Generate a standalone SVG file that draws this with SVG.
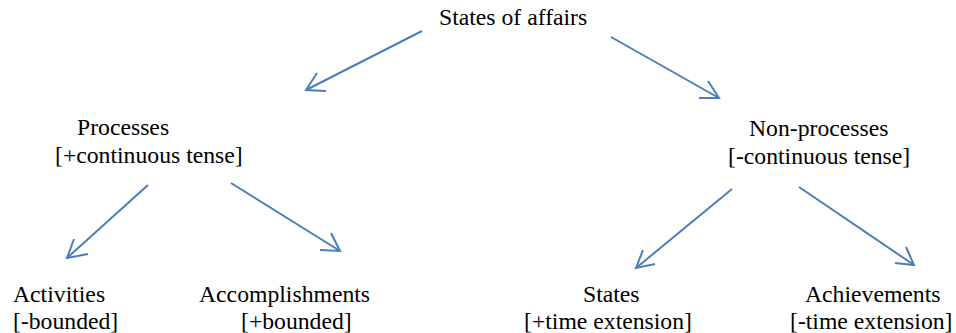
<svg xmlns="http://www.w3.org/2000/svg" width="956" height="333" viewBox="0 0 956 333">
<style>
text{font-family:"Liberation Serif","Times New Roman",serif;font-size:23.7px;fill:#000}
.c line,.c polyline{stroke:#4a7ebb;stroke-width:2;fill:none;stroke-linecap:butt}
</style>
<rect width="956" height="333" fill="#fff"/>
<g class="c" id="connectors">
<line x1="422" y1="31" x2="306" y2="90"/><polyline points="317,73 306,90 326,91"/>
<line x1="611" y1="37" x2="719" y2="98"/><polyline points="708,81 719,98 699,98"/>
<line x1="148" y1="185" x2="67" y2="258"/><polyline points="74,239 67,258 88,254"/>
<line x1="231" y1="183" x2="340" y2="251"/><polyline points="331,233 340,251 320,250"/>
<line x1="732" y1="189" x2="636" y2="268"/><polyline points="643,250 636,268 655,264"/>
<line x1="799" y1="187" x2="914" y2="265"/><polyline points="906,247 914,265 895,263"/>
</g>
<g id="root"><text x="439" y="25">States of affairs</text></g>
<g id="processes"><text x="77" y="135">Processes</text><text x="55" y="163">[+continuous tense]</text></g>
<g id="nonprocesses"><text x="749" y="136">Non-processes</text><text x="728" y="164">[-continuous tense]</text></g>
<g id="activities"><text x="13" y="302">Activities</text><text x="13" y="329">[-bounded]</text></g>
<g id="accomplishments"><text x="199" y="302">Accomplishments</text><text x="241" y="329">[+bounded]</text></g>
<g id="states"><text x="583" y="302">States</text><text x="524" y="329">[+time extension]</text></g>
<g id="achievements"><text x="805" y="302">Achievements</text><text x="790" y="329">[-time extension]</text></g>
</svg>
